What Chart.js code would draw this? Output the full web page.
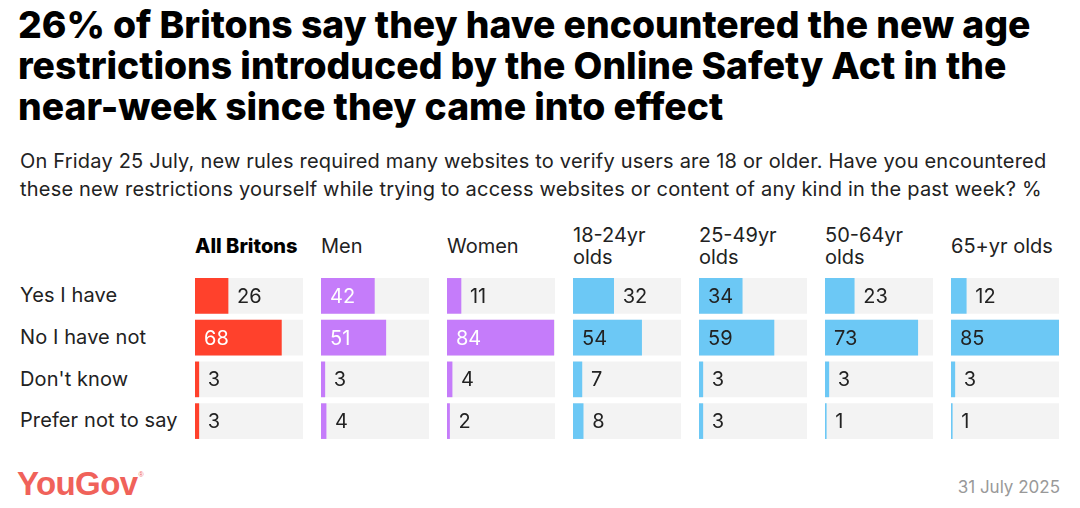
<!DOCTYPE html>
<html>
<head>
<meta charset="utf-8">
<script src="https://cdn.jsdelivr.net/npm/chart.js@4.4.1/dist/chart.umd.min.js"></script>
<style>
  html, body { margin: 0; padding: 0; background: #fff; }
  body { width: 1080px; height: 508px; position: relative; overflow: hidden; font-family: Inter, "Noto Sans", sans-serif; color: #111; }
  #title { position: absolute; left: 18px; top: 4px; font-size: 37.3px; font-weight: 800; line-height: 41px; letter-spacing: 0; color: #000; white-space: nowrap; }
  #subtitle { position: absolute; left: 20px; top: 147px; font-size: 20px; line-height: 28px; letter-spacing: 0.2px; color: #222; white-space: nowrap; }
  .rowlabel { position: absolute; left: 20px; font-size: 20px; letter-spacing: 0.1px; color: #222; height: 34px; line-height: 34px; }
  .colhead { position: absolute; top: 222px; height: 48px; width: 125px; display: flex; flex-direction: column; justify-content: center; font-size: 20px; line-height: 22px; color: #222; }
  .colhead.bold { font-weight: 800; font-size: 20px; color: #000; }
  .cell { position: absolute; top: 275px; height: 167px; }
  #logo { position: absolute; left: 17px; top: 465px; font-family: "Liberation Sans Narrow", "Liberation Sans", sans-serif; font-weight: 700; font-size: 33px; color: #f0625a; letter-spacing: -0.6px; }
  #logo sup { font-size: 7px; font-weight: 400; vertical-align: top; position: relative; top: 6px; left: 1px; }
  #date { position: absolute; right: 20px; top: 477px; font-size: 17px; color: #999; }
</style>
</head>
<body>
<div id="title">26% of Britons say they have encountered the new age<br>restrictions introduced by the Online Safety Act in the<br>near-week since they came into effect</div>
<div id="subtitle">On Friday 25 July, new rules required many websites to verify users are 18 or older. Have you encountered<br>these new restrictions yourself while trying to access websites or content of any kind in the past week? %</div>
<div id="logo">YouGov<sup>®</sup></div>
<div id="date">31 July 2025</div>

<script>
// ─── DATA ─────────────────────────────────────────────────────────────────
const categories = ["Yes I have", "No I have not", "Don't know", "Prefer not to say"];
const groupHeaders = [["All Britons"], ["Men"], ["Women"], ["18-24yr", "olds"], ["25-49yr", "olds"], ["50-64yr", "olds"], ["65+yr olds"]];

const allBritons = [26, 68, 3, 3];
const men        = [42, 51, 3, 4];
const women      = [11, 84, 4, 2];
const age18to24  = [32, 54, 7, 8];
const age25to49  = [34, 59, 3, 3];
const age50to64  = [23, 73, 3, 1];
const age65plus  = [12, 85, 3, 1];

const groupValues = [allBritons, men, women, age18to24, age25to49, age50to64, age65plus];

// ─── STYLE ────────────────────────────────────────────────────────────────
const RED = "#ff412c", PURPLE = "#c57cfa", BLUE = "#6cc8f5", TRACK = "#f3f3f3";
const groupColors = [RED, PURPLE, PURPLE, BLUE, BLUE, BLUE, BLUE];
const insideText  = ["#fff", "#fff", "#fff", "#222", "#222", "#222", "#222"];

const COL_X0 = 195, COL_STEP = 126, COL_W = 108;
const ROW_Y0 = 275, ROW_STEP = 41.75;
const scaleMax = Math.max(...groupValues.flat());

// row labels
categories.forEach((c, i) => {
  const el = document.createElement("div");
  el.className = "rowlabel";
  el.style.top = (ROW_Y0 + 3 + i * ROW_STEP) + "px";
  el.textContent = c;
  document.body.appendChild(el);
});

// value labels drawn on the bars
const valueLabels = {
  id: "valueLabels",
  afterDatasetsDraw(chart, args, opts) {
    const { ctx } = chart;
    const meta = chart.getDatasetMeta(0);
    const vals = chart.data.datasets[0].data;
    ctx.save();
    ctx.font = "20px Inter, 'Noto Sans', sans-serif";
    ctx.textBaseline = "middle";
    ctx.textAlign = "left";
    meta.data.forEach((bar, i) => {
      const w = bar.x - bar.base;
      const inside = w > 42;
      ctx.fillStyle = inside ? opts.insideColor : "#222";
      ctx.fillText(vals[i], inside ? bar.base + 9 : bar.x + 9, bar.y + 1);
    });
    ctx.restore();
  }
};

groupValues.forEach((vals, g) => {
  const left = COL_X0 + g * COL_STEP;

  const head = document.createElement("div");
  head.className = "colhead" + (g === 0 ? " bold" : "");
  head.style.left = left + "px";
  head.innerHTML = groupHeaders[g].join("<br>");
  document.body.appendChild(head);

  const cell = document.createElement("div");
  cell.className = "cell";
  cell.style.left = left + "px";
  cell.style.width = COL_W + "px";
  const canvas = document.createElement("canvas");
  cell.appendChild(canvas);
  document.body.appendChild(cell);

  new Chart(canvas, {
    type: "bar",
    data: {
      labels: categories,
      datasets: [
        { data: vals, backgroundColor: groupColors[g], order: 1, barThickness: 35, grouped: false },
        { data: categories.map(() => scaleMax), backgroundColor: TRACK, order: 2, barThickness: 35, grouped: false }
      ]
    },
    options: {
      indexAxis: "y",
      responsive: true,
      maintainAspectRatio: false,
      animation: false,
      events: [],
      layout: { padding: 0 },
      plugins: {
        legend: { display: false },
        tooltip: { enabled: false },
        valueLabels: { insideColor: insideText[g] }
      },
      scales: {
        x: { display: false, min: 0, max: scaleMax },
        y: { display: false }
      }
    },
    plugins: [valueLabels]
  });
});
</script>
</body>
</html>
